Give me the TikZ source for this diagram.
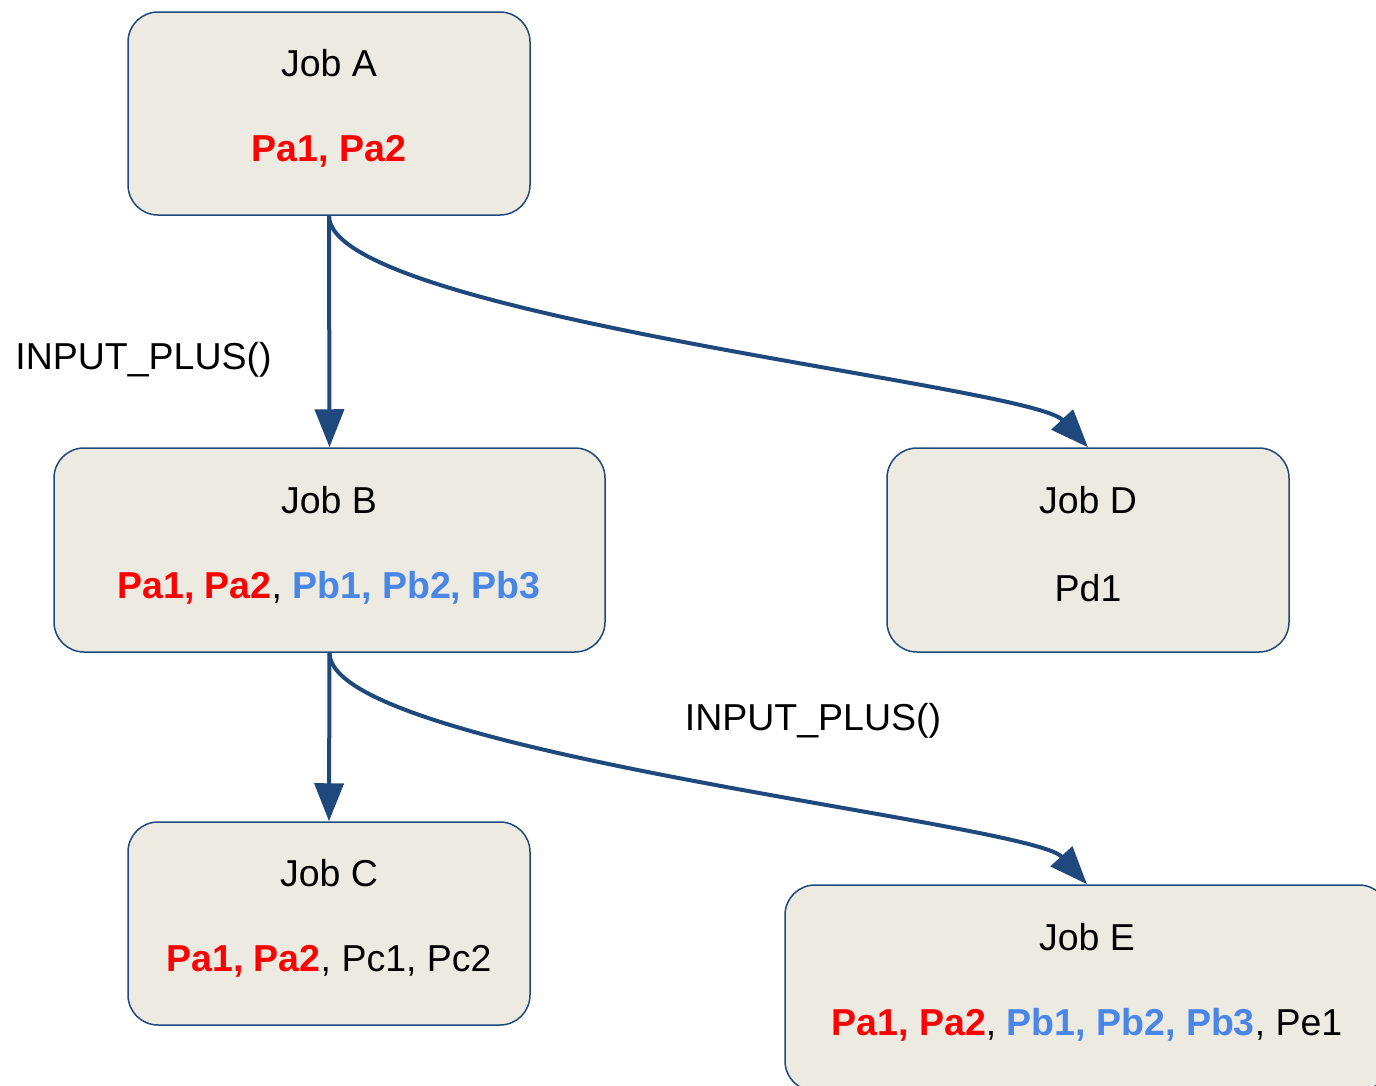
\documentclass[tikz,border=0pt]{standalone}
\usepackage{fontspec}
\setmainfont{Liberation Sans}
\usetikzlibrary{arrows.meta}
\definecolor{edgeblue}{RGB}{31,73,125}
\definecolor{boxfill}{RGB}{237,235,225}
\definecolor{pred}{RGB}{255,0,0}
\definecolor{pblue}{RGB}{74,134,232}
\newcommand{\rp}[1]{\textcolor{pred}{\textbf{#1}}}
\newcommand{\bp}[1]{\textcolor{pblue}{\textbf{#1}}}
\tikzset{
  jobbox/.style={draw=edgeblue, line width=1.5pt, fill=boxfill, rounded corners=30pt, inner sep=0pt},
  txt/.style={inner sep=0pt, font=\fontsize{37.5}{44}\selectfont, anchor=center},
  conn/.style={draw=edgeblue, line width=4pt, -{Triangle[length=38pt,width=29pt]}},
}
\begin{document}
\begin{tikzpicture}[x=1pt,y=-1pt]
\useasboundingbox (0,0) rectangle (1376,1085);
\clip (0,0) rectangle (1376,1085);
% boxes
\node[jobbox, minimum width=402pt, minimum height=203pt] (A) at (329,113.5) {};
\node[jobbox, minimum width=551pt, minimum height=204pt] (B) at (329.5,550) {};
\node[jobbox, minimum width=402pt, minimum height=204pt] (D) at (1088,550) {};
\node[jobbox, minimum width=402pt, minimum height=203pt] (C) at (329,923.5) {};
\node[jobbox, minimum width=604pt, minimum height=206pt] (E) at (1087,988) {};
% texts
\node[txt] (At) at (329,63) {Job A};
\node[txt] (Ap) at (329,151) {\rp{Pa1, Pa2}};
\node[txt] (Bt) at (329,500) {Job B};
\node[txt] (Bp) at (329,588) {\rp{Pa1, Pa2}, \bp{Pb1, Pb2, Pb3}};
\node[txt] (Dt) at (1088,500) {Job D};
\node[txt] (Dp) at (1088,588) {Pd1};
\node[txt] (Ct) at (329,873) {Job C};
\node[txt] (Cp) at (329,961) {\rp{Pa1, Pa2}, Pc1, Pc2};
\node[txt] (Et) at (1087,937) {Job E};
\node[txt] (Ep) at (1087,1025) {\rp{Pa1, Pa2}, \bp{Pb1, Pb2, Pb3}, Pe1};
% labels
\node[txt] (L1) at (143.5,360) {INPUT\_PLUS()};
\node[txt] (L2) at (813,721) {INPUT\_PLUS()};
% connectors
\draw[conn] (A.south) -- (B.north);
\draw[conn] (A.south) .. controls (329,315) and (1030,385) .. (D.north);
\draw[conn] (B.south) -- (C.north);
\draw[conn] (B.south) .. controls (329,752) and (1030,822) .. (E.north);
\end{tikzpicture}
\end{document}
